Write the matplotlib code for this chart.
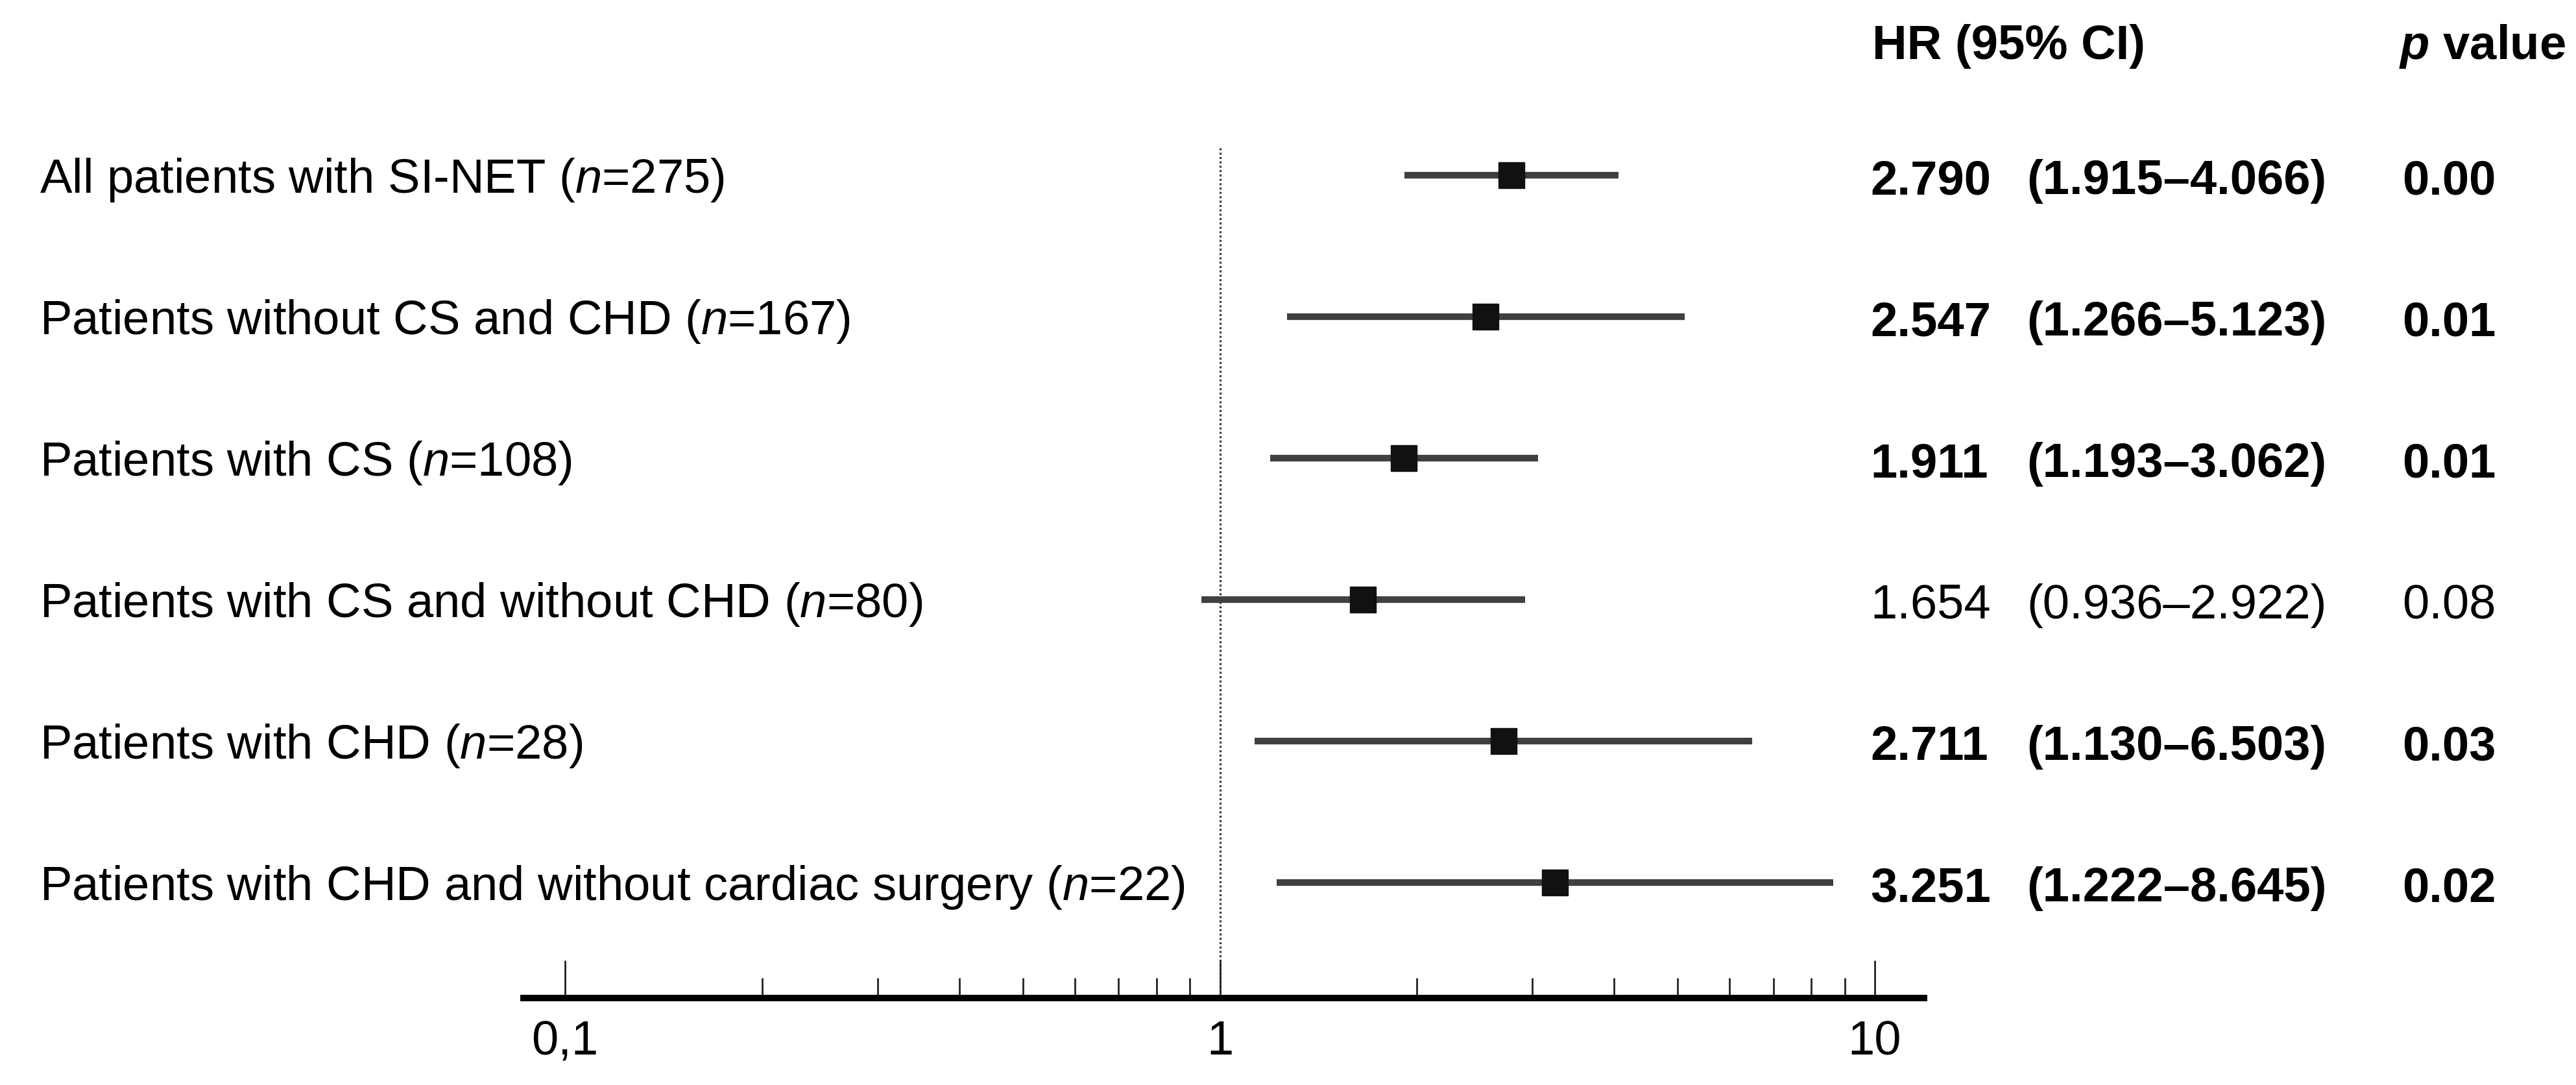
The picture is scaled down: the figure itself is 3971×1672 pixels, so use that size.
import matplotlib.pyplot as plt
import matplotlib.transforms as mtransforms
import matplotlib.ticker as mticker
import numpy as np

plt.rcParams['font.family'] = ['Liberation Sans', 'DejaVu Sans']
plt.rcParams['mathtext.fontset'] = 'custom'
plt.rcParams['mathtext.rm'] = 'Liberation Sans'
plt.rcParams['mathtext.it'] = 'Liberation Sans:italic'
plt.rcParams['mathtext.bf'] = 'Liberation Sans:bold'
plt.rcParams['mathtext.bfit'] = 'Liberation Sans:italic:bold'

# data
groups = ['All patients with SI-NET ($\\mathit{n}$=275)',
          'Patients without CS and CHD ($\\mathit{n}$=167)',
          'Patients with CS ($\\mathit{n}$=108)',
          'Patients with CS and without CHD ($\\mathit{n}$=80)',
          'Patients with CHD ($\\mathit{n}$=28)',
          'Patients with CHD and without cardiac surgery ($\\mathit{n}$=22)']
hr = [2.790, 2.547, 1.911, 1.654, 2.711, 3.251]
ci_low = [1.915, 1.266, 1.193, 0.936, 1.130, 1.222]
ci_high = [4.066, 5.123, 3.062, 2.922, 6.503, 8.645]
p_values = ['0.00', '0.01', '0.01', '0.08', '0.03', '0.02']
significant = [True, True, True, False, True, True]

major_ticks = [0.1, 1, 10]
major_labels = ['0,1', '1', '10']
minor_ticks = [0.2, 0.3, 0.4, 0.5, 0.6, 0.7, 0.8, 0.9, 2, 3, 4, 5, 6, 7, 8, 9]

W, H = 3971, 1672
fig = plt.figure(figsize=(W / 100, H / 100), dpi=100)

# pixel layout: 0.1 at x=871, 10 at x=2890, axis line 807..2966
x01, x10 = 871, 2890
decade = (x10 - x01) / 2
left_px, right_px = 807, 2966
ax = fig.add_axes([left_px / W, 0, (right_px - left_px) / W, 1])
ax.set_xscale('log')
ax.set_xlim(10 ** (-1 - (x01 - left_px) / decade), 10 ** (1 + (right_px - x10) / decade))

# rows: first at pixel 270 from top, spacing 218
row0, step = 270, 218
ax.set_ylim((H - row0) / step, -row0 / step)
axis_y = (1538 - row0) / step

ypos = np.arange(len(groups))

# reference line at HR = 1
ax.plot([1, 1], [(228 - row0) / step, axis_y], color='#333333', lw=2.2,
        linestyle=(0, (1, 1.2)), zorder=1)

# confidence intervals and point estimates
ax.hlines(ypos, ci_low, ci_high, color='#404040', lw=7.4, zorder=2)
ax.plot(hr, ypos, 's', color='#111111', markersize=29, zorder=3)

# axis styling
for s in ['top', 'right', 'left']:
    ax.spines[s].set_visible(False)
ax.spines['bottom'].set_position(('data', axis_y))
ax.spines['bottom'].set_linewidth(7.2)
ax.set_yticks([])
ax.xaxis.set_major_locator(mticker.FixedLocator(major_ticks))
ax.xaxis.set_major_formatter(mticker.FixedFormatter(major_labels))
ax.xaxis.set_minor_locator(mticker.FixedLocator(minor_ticks))
ax.xaxis.set_minor_formatter(mticker.NullFormatter())
ax.tick_params(axis='x', which='major', direction='in', length=42, width=2.0,
               pad=24, color='#222222', labelsize=53.5)
ax.tick_params(axis='x', which='minor', direction='in', length=22, width=2.0,
               color='#222222')
ax.patch.set_visible(False)

# text columns
trans = mtransforms.blended_transform_factory(fig.transFigure, ax.transData)
fs = 53.5
x_label, x_hr, x_ci, x_p = 61 / W, 2883 / W, 3124 / W, 3703 / W
label_off = 27 / step
num_off = 29 / step
head_y = (91 - row0) / step
ax.text(2886 / W, head_y, 'HR (95% CI)', transform=trans, fontsize=fs,
        fontweight='bold', va='baseline', ha='left')
ax.text(3698 / W, head_y, '$\\mathbfit{p}$ value', transform=trans, fontsize=fs,
        fontweight='bold', va='baseline', ha='left')

for i, lab in enumerate(groups):
    w = 'bold' if significant[i] else 'normal'
    ax.text(x_label, i + label_off, lab, transform=trans, fontsize=fs,
            va='baseline', ha='left')
    ax.text(x_hr, i + num_off, f'{hr[i]:.3f}', transform=trans, fontsize=fs,
            fontweight=w, va='baseline', ha='left')
    ax.text(x_ci, i + num_off, f'({ci_low[i]:.3f}\u2013{ci_high[i]:.3f})',
            transform=trans, fontsize=fs, fontweight=w, va='baseline', ha='left')
    ax.text(x_p, i + num_off, p_values[i], transform=trans, fontsize=fs,
            fontweight=w, va='baseline', ha='left')

fig.savefig('out.png', dpi=100)
